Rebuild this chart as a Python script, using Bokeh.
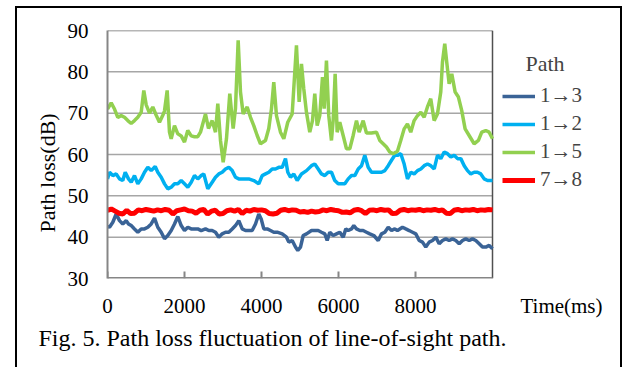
from bokeh.plotting import figure
from bokeh.models import (Range1d, FixedTicker, Label, Legend, LegendItem, Title)
from bokeh.embed import file_html
from bokeh.resources import INLINE

# ---------------- data ----------------
x_ticks = [0, 2000, 4000, 6000, 8000]
y_ticks = [30, 40, 50, 60, 70, 80, 90]
x_start, x_end = 0, 10000
y_start, y_end = 30, 90

t_13 = [0, 52, 138, 226, 312, 397, 486, 545, 616, 701, 787, 875, 961, 1047, 1135,
        1221, 1306, 1395, 1481, 1566, 1655, 1740, 1826, 1914, 2000, 2086, 2174,
        2260, 2345, 2434, 2545, 2631, 2719, 2805, 2891, 2979, 3065, 3151, 3239,
        3325, 3410, 3499, 3584, 3670, 3758, 3844, 3930, 3992, 4060, 4148, 4234,
        4319, 4408, 4538, 4649, 4709, 4797, 4883, 4943, 5013, 5083, 5169, 5299,
        5384, 5473, 5558, 5644, 5706, 5774, 5862, 5948, 6034, 6122, 6190, 6252,
        6338, 6397, 6467, 6553, 6641, 6727, 6813, 6917, 7031, 7117, 7203, 7291,
        7377, 7462, 7532, 7662, 7748, 7836, 7922, 8008, 8096, 8182, 8267, 8356,
        8442, 8527, 8615, 8701, 8787, 8875, 8961, 9047, 9135, 9221, 9306, 9395,
        9481, 9566, 9655, 9740, 9826, 9914, 10000]
v_13 = [42.6, 42.4, 43.6, 45.6, 44.0, 43.2, 44.0, 43.2, 42.8, 42.0, 41.2, 42.0, 42.0,
        42.4, 43.2, 44.6, 42.4, 41.2, 39.6, 40.4, 41.6, 43.2, 45.0, 42.8, 41.6, 42.4,
        42.0, 42.0, 42.0, 41.6, 42.0, 41.6, 41.6, 41.2, 40.0, 40.8, 41.2, 41.2, 42.0,
        42.8, 44.0, 42.0, 41.6, 41.6, 41.6, 43.2, 45.6, 44.4, 42.0, 42.0, 41.6, 41.2,
        41.2, 40.8, 40.0, 38.8, 39.2, 37.6, 36.8, 37.6, 40.4, 40.8, 41.6, 41.6, 41.6,
        41.2, 40.8, 39.2, 41.2, 40.4, 40.8, 41.2, 40.0, 42.0, 41.6, 42.0, 42.8, 42.0,
        41.6, 41.6, 41.2, 40.8, 40.4, 39.2, 40.8, 41.2, 42.4, 41.6, 42.0, 41.6, 42.4,
        42.0, 41.6, 41.2, 40.8, 39.2, 38.8, 37.6, 38.8, 39.2, 40.0, 38.4, 39.2, 39.6,
        39.2, 39.6, 39.2, 38.4, 39.2, 39.6, 39.2, 39.6, 39.2, 38.4, 37.6, 37.6, 38.0,
        37.2]

t_12 = [0, 52, 138, 226, 312, 397, 460, 545, 616, 701, 787, 875, 961, 1047, 1135,
        1239, 1306, 1395, 1481, 1566, 1655, 1740, 1826, 1914, 2000, 2086, 2174,
        2260, 2345, 2434, 2501, 2605, 2719, 2805, 2891, 2979, 3065, 3151, 3239,
        3325, 3410, 3540, 3670, 3800, 3930, 4018, 4104, 4190, 4278, 4364, 4449,
        4538, 4623, 4683, 4753, 4839, 4927, 5039, 5169, 5299, 5384, 5473, 5558,
        5644, 5732, 5818, 5904, 5992, 6078, 6164, 6252, 6338, 6423, 6512, 6597,
        6683, 6771, 6857, 6987, 7117, 7203, 7291, 7377, 7462, 7532, 7618, 7706,
        7792, 7878, 7966, 8052, 8138, 8226, 8312, 8397, 8486, 8571, 8657, 8745,
        8831, 8917, 9005, 9091, 9177, 9265, 9351, 9436, 9525, 9610, 9696, 9784,
        9870, 10000]
v_12 = [54.1, 55.7, 54.9, 55.3, 54.1, 53.7, 55.7, 54.1, 53.3, 54.9, 52.9, 54.1, 55.7,
        56.9, 56.1, 57.1, 55.7, 54.5, 52.9, 51.7, 52.1, 52.9, 52.9, 53.7, 52.9, 52.1,
        53.3, 54.9, 54.1, 54.9, 55.3, 51.7, 53.3, 54.5, 55.3, 55.7, 56.5, 56.9, 56.1,
        54.5, 54.1, 54.1, 54.1, 53.7, 52.9, 54.9, 55.3, 55.7, 56.5, 56.5, 56.9, 56.9,
        59.0, 55.7, 54.5, 55.3, 53.7, 55.3, 56.1, 57.3, 57.7, 56.5, 55.3, 54.9, 55.7,
        55.7, 53.7, 52.9, 52.9, 52.9, 54.1, 54.9, 54.9, 56.5, 57.3, 59.8, 56.9, 55.7,
        55.7, 55.7, 56.1, 57.3, 58.6, 59.8, 59.8, 60.2, 57.7, 54.1, 55.7, 55.3, 56.1,
        56.5, 57.3, 57.7, 57.3, 56.5, 59.8, 59.0, 60.6, 60.2, 59.4, 59.8, 59.0, 59.0,
        57.3, 56.1, 55.3, 55.7, 55.7, 55.3, 54.1, 53.7, 53.7]

t_15 = [0, 96, 182, 267, 356, 441, 527, 615, 701, 787, 875, 943, 1005, 1091, 1176,
        1265, 1350, 1436, 1480, 1550, 1610, 1654, 1740, 1826, 1914, 2000, 2085,
        2174, 2259, 2345, 2415, 2545, 2623, 2719, 2805, 2865, 2935, 3005, 3090,
        3176, 3264, 3324, 3394, 3454, 3524, 3628, 3714, 3799, 3888, 3973, 4103,
        4189, 4259, 4319, 4389, 4493, 4579, 4682, 4797, 4908, 4978, 5038, 5098,
        5168, 5254, 5324, 5384, 5446, 5513, 5584, 5628, 5687, 5747, 5817, 5861,
        5913, 5965, 6033, 6121, 6207, 6293, 6381, 6467, 6537, 6641, 6726, 6856,
        6986, 7072, 7160, 7246, 7331, 7420, 7531, 7617, 7705, 7791, 7877, 7965,
        8051, 8137, 8225, 8310, 8396, 8484, 8570, 8656, 8700, 8760, 8812, 8874,
        8942, 9030, 9115, 9201, 9289, 9393, 9523, 9635, 9721, 9825, 9913, 10000]
v_15 = [71.0, 72.5, 71.0, 69.0, 69.4, 69.0, 68.2, 67.5, 68.2, 69.0, 70.2, 75.5, 72.0,
        70.0, 71.5, 69.5, 67.8, 69.5, 70.5, 75.5, 65.4, 63.8, 67.0, 65.0, 64.5, 63.0,
        65.8, 64.5, 64.3, 64.3, 65.4, 69.8, 66.3, 68.2, 65.4, 72.3, 63.4, 58.1, 63.8,
        74.7, 66.3, 71.1, 87.6, 75.1, 69.8, 71.5, 69.0, 67.0, 64.6, 62.6, 63.4, 66.3,
        71.1, 77.5, 69.4, 65.4, 63.8, 67.8, 69.8, 86.4, 72.7, 81.9, 75.9, 70.2, 65.4,
        68.2, 74.7, 67.0, 69.4, 78.7, 71.1, 82.7, 69.4, 63.4, 68.2, 79.5, 65.4, 67.8,
        64.6, 61.4, 61.4, 64.6, 68.2, 65.4, 68.2, 65.2, 65.2, 65.4, 63.4, 62.6, 61.8,
        60.6, 60.2, 60.8, 63.4, 66.2, 67.4, 65.4, 68.2, 69.4, 70.2, 69.0, 71.5, 73.5,
        68.2, 69.8, 75.1, 82.3, 86.8, 82.3, 77.1, 79.5, 75.1, 73.9, 70.6, 66.2, 64.6,
        62.6, 63.4, 65.4, 65.8, 65.4, 63.8]

t_78 = [i * 100 for i in range(101)]
v_78 = [46.5, 46.8, 46.3, 45.8, 45.6, 46.5, 45.7, 45.8, 46.6, 46.4,
        46.7, 46.5, 46.3, 46.6, 46.4, 46.7, 46.5, 45.6, 46.4, 46.6,
        46.8, 46.4, 46.3, 45.8, 46.5, 46.7, 45.6, 46.3, 46.5, 45.6,
        45.7, 46.4, 46.6, 46.3, 46.7, 45.7, 46.5, 46.3, 46.7, 46.5,
        46.6, 46.4, 45.7, 45.6, 45.8, 46.5, 46.7, 46.4, 46.6, 46.5,
        46.1, 46.2, 46.0, 46.3, 46.1, 46.2, 46.6, 46.4, 46.7, 46.5,
        46.4, 46.0, 46.1, 45.9, 46.5, 46.7, 46.4, 45.7, 46.5, 46.6,
        46.4, 46.7, 46.5, 46.6, 45.7, 45.8, 46.5, 46.7, 46.4, 46.6,
        46.5, 46.7, 46.4, 46.6, 46.5, 46.7, 46.4, 46.6, 45.8, 45.7,
        46.5, 46.7, 46.4, 46.6, 46.5, 46.7, 46.4, 46.6, 46.5, 46.7, 46.6]

series_labels = ["1\u21923", "1\u21922", "1\u21925", "7\u21928"]
series_colors = ["#3a6396", "#00b0f0", "#92d050", "#ff0000"]
x_title = "Time(ms)"
y_title = "Path loss(dB)"
legend_title = "Path"
caption_text = "Fig. 5. Path loss fluctuation of line-of-sight path."

FONT = "Liberation Serif"

# ---------------- layout (pixels) ----------------
W, H = 626, 367
left_px, top_px, plot_right_px, frame_right_px, bottom_px = 107, 30, 492, 605, 278
px_per_x = (plot_right_px - left_px) / (x_end - x_start)
px_per_y = (bottom_px - top_px) / (y_end - y_start)
# frame extends to the right of the data box so the legend can live inside it
x_range_end = x_end + (frame_right_px - plot_right_px) / px_per_x
# x-axis title sits right of the data box, level with the tick labels
x_title_pos = int(round(x_start + (561 - left_px) / px_per_x))
tick_len_px = 7

border_css = ("linear-gradient(#000,#000) 15px 6px / 2px 420px no-repeat, "
              "linear-gradient(#000,#000) 15px 6px / 607px 2px no-repeat, "
              "linear-gradient(#000,#000) 620px 6px / 2px 420px no-repeat, #ffffff")

p = figure(width=W, height=H, output_backend="svg", toolbar_location=None,
           x_range=Range1d(x_start, x_range_end), y_range=Range1d(y_start, y_end),
           min_border_left=left_px, min_border_right=W - frame_right_px,
           min_border_top=top_px, min_border_bottom=H - bottom_px,
           styles={"background": border_css})
p.background_fill_color = "white"
p.border_fill_alpha = 0
p.outline_line_color = None
p.grid.grid_line_color = None

# horizontal grid lines + plot box, limited to the data box
grid_vals = [v for v in y_ticks if v not in (y_start, y_end)]
p.segment(x0=[x_start] * len(grid_vals), x1=[x_end] * len(grid_vals),
          y0=grid_vals, y1=grid_vals, line_color="#a6a6a6", line_width=1.5)
p.segment(x0=[x_start], x1=[x_end], y0=[y_end], y1=[y_end],
          line_color="#6e6e6e", line_width=1.5)
p.segment(x0=[x_end], x1=[x_end], y0=[y_start], y1=[y_end],
          line_color="#505050", line_width=1.5)
p.segment(x0=[x_start], x1=[x_end], y0=[y_start], y1=[y_start],
          line_color="#868686", line_width=3)
# inward tick marks on the bottom edge
p.segment(x0=x_ticks, x1=x_ticks, y0=[y_start] * len(x_ticks),
          y1=[y_start + tick_len_px / px_per_y] * len(x_ticks),
          line_color="#868686", line_width=2)

p.xaxis.ticker = FixedTicker(ticks=x_ticks + [x_title_pos])
p.xaxis.major_label_overrides = {x_title_pos: x_title}
p.yaxis.ticker = FixedTicker(ticks=y_ticks)
for ax in (p.xaxis, p.yaxis):
    ax.minor_tick_line_color = None
    ax.major_tick_line_color = None
    ax.major_tick_in = 0
    ax.major_tick_out = 0
    ax.minor_tick_in = 0
    ax.minor_tick_out = 0
    ax.major_label_text_font = FONT
    ax.major_label_text_font_size = "21px"
    ax.major_label_text_color = "black"
p.xaxis.axis_line_color = None
p.yaxis.axis_line_color = "#868686"
p.yaxis.axis_line_width = 2
p.xaxis.major_label_standoff = 15
p.yaxis.major_label_standoff = 19

ylab = Title(text=y_title, align="left", offset=bottom_px - 232, text_font=FONT,
             text_font_size="22px", text_font_style="normal",
             text_color="black", standoff=9)
p.add_layout(ylab, "left")

renderers = []
for t, v, c, w in [(t_13, v_13, series_colors[0], 3.5),
                   (t_12, v_12, series_colors[1], 3.5),
                   (t_15, v_15, series_colors[2], 3.5),
                   (t_78, v_78, series_colors[3], 5)]:
    renderers.append(p.line(t, v, line_color=c, line_width=w))

legend = Legend(items=[LegendItem(label=lab, renderers=[r])
                       for lab, r in zip(series_labels, renderers)],
                location=(395, 86), orientation="vertical",
                label_text_font=FONT, label_text_font_size="21px",
                glyph_width=33, glyph_height=20, label_height=20,
                label_standoff=5, spacing=3, padding=0, margin=0,
                border_line_color=None, background_fill_alpha=0)
p.add_layout(legend)

p.add_layout(Label(x=525, y=63, x_units="canvas", y_units="canvas",
                   text=legend_title, text_font=FONT, text_font_size="22px",
                   text_baseline="middle", text_align="left"))

caption = Title(text=caption_text, align="left", offset=38 - left_px, text_font=FONT,
                text_font_size="24px", text_font_style="normal",
                text_color="black", standoff=4)
p.add_layout(caption, "below")

open("out.html", "w").write(file_html(p, INLINE))
